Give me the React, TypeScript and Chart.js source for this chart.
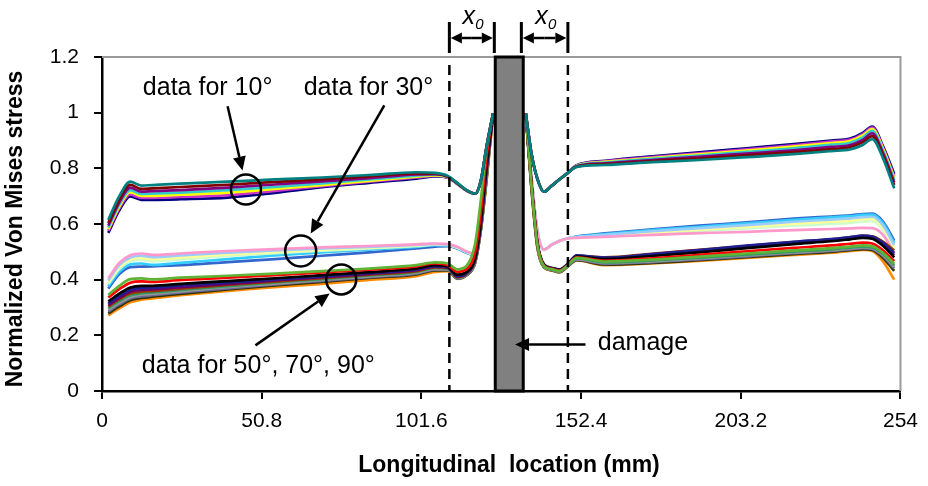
import React, { useEffect, useRef } from 'react';
import { Chart, registerables } from 'chart.js';

Chart.register(...registerables);

// Longitudinal positions (mm); 130 is the gap under the damage
const X_MM = [2, 5.5, 9, 12.5, 16, 25, 40, 55, 70, 85, 100, 106, 110, 113, 116, 118.7, 120.5, 122.3, 124.4,
  130,
  134.8, 136.5, 138.5, 140.6, 143, 145.5, 148, 151, 160, 175, 190, 205, 220, 232, 238, 242, 245, 248.5, 252];

const X_TICKS = [0, 50.8, 101.6, 152.4, 203.2, 254];
const Y_TICKS = [0, 0.2, 0.4, 0.6, 0.8, 1, 1.2];

// ---- data for 10° ----
const D10_TEAL = [0.615, 0.700, 0.752, 0.738, 0.740, 0.745, 0.752, 0.760, 0.767, 0.776, 0.786, 0.784, 0.773, 0.748, 0.722, 0.709, 0.755, 0.875, 0.997,
  null,
  0.997, 0.860, 0.762, 0.716, 0.737, 0.760, 0.782, 0.805, 0.812, 0.822, 0.830, 0.840, 0.851, 0.862, 0.868, 0.884, 0.905, 0.835, 0.728];
const D10_DARKRED = [0.603, 0.688, 0.741, 0.726, 0.728, 0.733, 0.741, 0.751, 0.760, 0.771, 0.782, 0.781, 0.771, 0.747, 0.721, 0.709, 0.755, 0.875, 0.997,
  null,
  0.997, 0.860, 0.762, 0.716, 0.737, 0.760, 0.782, 0.806, 0.815, 0.826, 0.836, 0.847, 0.858, 0.869, 0.876, 0.894, 0.916, 0.845, 0.740];
const D10_PURPLE = [0.594, 0.678, 0.731, 0.716, 0.718, 0.722, 0.731, 0.742, 0.753, 0.765, 0.778, 0.779, 0.770, 0.746, 0.721, 0.709, 0.755, 0.875, 0.997,
  null,
  0.997, 0.860, 0.762, 0.716, 0.737, 0.760, 0.782, 0.807, 0.818, 0.830, 0.841, 0.853, 0.865, 0.877, 0.884, 0.902, 0.926, 0.853, 0.750];
const D10_CYAN = [0.587, 0.670, 0.722, 0.708, 0.709, 0.713, 0.722, 0.733, 0.746, 0.760, 0.774, 0.777, 0.769, 0.745, 0.720, 0.709, 0.755, 0.875, 0.997,
  null,
  0.997, 0.860, 0.762, 0.716, 0.737, 0.760, 0.782, 0.808, 0.821, 0.834, 0.846, 0.859, 0.872, 0.885, 0.892, 0.911, 0.935, 0.862, 0.758];
const D10_YELLOW = [0.581, 0.663, 0.714, 0.701, 0.701, 0.705, 0.713, 0.726, 0.740, 0.755, 0.770, 0.775, 0.768, 0.745, 0.720, 0.709, 0.755, 0.875, 0.997,
  null,
  0.997, 0.860, 0.762, 0.716, 0.737, 0.760, 0.782, 0.809, 0.823, 0.837, 0.850, 0.864, 0.878, 0.891, 0.898, 0.918, 0.941, 0.868, 0.765];
const D10_MAGENTA = [0.575, 0.656, 0.706, 0.694, 0.694, 0.697, 0.704, 0.719, 0.736, 0.752, 0.767, 0.773, 0.767, 0.744, 0.720, 0.709, 0.755, 0.875, 0.997,
  null,
  0.997, 0.860, 0.762, 0.716, 0.737, 0.760, 0.782, 0.810, 0.825, 0.840, 0.854, 0.868, 0.883, 0.896, 0.903, 0.923, 0.946, 0.873, 0.772];
const D10_NAVY = [0.568, 0.649, 0.699, 0.687, 0.687, 0.689, 0.695, 0.712, 0.732, 0.748, 0.763, 0.771, 0.766, 0.744, 0.719, 0.709, 0.755, 0.875, 0.997,
  null,
  0.997, 0.860, 0.762, 0.716, 0.737, 0.760, 0.782, 0.811, 0.827, 0.843, 0.857, 0.872, 0.887, 0.900, 0.907, 0.927, 0.950, 0.878, 0.780];

// ---- data for 30° ----
const D30_PINK = [0.405, 0.460, 0.488, 0.494, 0.489, 0.494, 0.503, 0.510, 0.516, 0.521, 0.527, 0.530, 0.528, 0.518, 0.501, 0.492, 0.600, 0.820, 0.997,
  null,
  0.997, 0.780, 0.575, 0.508, 0.525, 0.539, 0.548, 0.550, 0.554, 0.561, 0.567, 0.572, 0.578, 0.582, 0.584, 0.586, 0.585, 0.560, 0.496];
const D30_PALEBLUE = [0.397, 0.452, 0.480, 0.486, 0.481, 0.487, 0.497, 0.505, 0.512, 0.518, 0.525, 0.528, 0.527, 0.517, 0.500, 0.491, 0.598, 0.818, 0.997,
  null,
  0.997, 0.780, 0.575, 0.508, 0.525, 0.539, 0.548, 0.553, 0.561, 0.574, 0.585, 0.596, 0.608, 0.616, 0.620, 0.625, 0.626, 0.594, 0.524];
const D30_LYELLOW = [0.391, 0.445, 0.473, 0.478, 0.473, 0.480, 0.491, 0.500, 0.508, 0.515, 0.523, 0.527, 0.526, 0.516, 0.500, 0.490, 0.596, 0.816, 0.997,
  null,
  0.997, 0.780, 0.575, 0.508, 0.525, 0.539, 0.548, 0.552, 0.559, 0.570, 0.580, 0.590, 0.601, 0.608, 0.612, 0.617, 0.618, 0.586, 0.516];
const D30_LGREEN = [0.385, 0.438, 0.466, 0.471, 0.466, 0.473, 0.485, 0.495, 0.504, 0.512, 0.521, 0.526, 0.525, 0.515, 0.499, 0.490, 0.594, 0.814, 0.997,
  null,
  0.997, 0.780, 0.575, 0.508, 0.525, 0.539, 0.548, 0.551, 0.557, 0.566, 0.575, 0.584, 0.594, 0.600, 0.604, 0.609, 0.610, 0.578, 0.508];
const D30_SKYBLUE = [0.376, 0.428, 0.455, 0.458, 0.453, 0.460, 0.474, 0.487, 0.498, 0.508, 0.518, 0.524, 0.523, 0.514, 0.498, 0.489, 0.592, 0.812, 0.997,
  null,
  0.997, 0.780, 0.575, 0.508, 0.525, 0.539, 0.548, 0.554, 0.564, 0.578, 0.590, 0.602, 0.615, 0.624, 0.628, 0.633, 0.634, 0.602, 0.532];
const D30_BLUE = [0.368, 0.420, 0.445, 0.447, 0.448, 0.452, 0.463, 0.474, 0.486, 0.498, 0.512, 0.519, 0.520, 0.512, 0.497, 0.488, 0.590, 0.810, 0.997,
  null,
  0.997, 0.780, 0.575, 0.508, 0.525, 0.539, 0.548, 0.555, 0.566, 0.581, 0.594, 0.606, 0.619, 0.627, 0.631, 0.636, 0.637, 0.608, 0.540];

// ---- data for 50°, 70°, 90° ----
const D50_GREEN = [0.345, 0.378, 0.402, 0.405, 0.401, 0.407, 0.414, 0.422, 0.431, 0.440, 0.452, 0.462, 0.458, 0.437, 0.450, 0.530, 0.685, 0.870, 0.997,
  null,
  0.997, 0.752, 0.525, 0.449, 0.438, 0.431, 0.450, 0.478, 0.465, 0.472, 0.483, 0.494, 0.505, 0.513, 0.519, 0.523, 0.520, 0.496, 0.457];
const D50_RED = [0.336, 0.366, 0.389, 0.394, 0.392, 0.399, 0.407, 0.416, 0.426, 0.436, 0.448, 0.458, 0.452, 0.428, 0.438, 0.500, 0.640, 0.840, 0.997,
  null,
  0.997, 0.754, 0.527, 0.450, 0.439, 0.433, 0.451, 0.480, 0.468, 0.477, 0.489, 0.502, 0.514, 0.523, 0.529, 0.533, 0.530, 0.505, 0.466];
const D50_BLACK = [0.322, 0.350, 0.372, 0.378, 0.378, 0.385, 0.395, 0.405, 0.416, 0.427, 0.440, 0.452, 0.447, 0.418, 0.428, 0.480, 0.610, 0.810, 0.997,
  null,
  0.997, 0.756, 0.529, 0.452, 0.440, 0.434, 0.452, 0.483, 0.474, 0.485, 0.498, 0.513, 0.528, 0.538, 0.545, 0.550, 0.547, 0.521, 0.480];
const D50_NAVY = [0.315, 0.342, 0.364, 0.370, 0.371, 0.379, 0.390, 0.401, 0.412, 0.424, 0.437, 0.449, 0.445, 0.414, 0.425, 0.476, 0.602, 0.800, 0.997,
  null,
  0.997, 0.760, 0.533, 0.454, 0.442, 0.436, 0.454, 0.487, 0.479, 0.492, 0.506, 0.522, 0.536, 0.546, 0.553, 0.558, 0.555, 0.532, 0.496];
const D50_PURPLE = [0.309, 0.335, 0.357, 0.363, 0.365, 0.373, 0.385, 0.397, 0.409, 0.421, 0.434, 0.447, 0.443, 0.411, 0.423, 0.473, 0.596, 0.792, 0.997,
  null,
  0.997, 0.758, 0.531, 0.453, 0.441, 0.435, 0.453, 0.484, 0.476, 0.488, 0.502, 0.517, 0.532, 0.542, 0.548, 0.553, 0.550, 0.526, 0.488];
const D50_BROWN = [0.304, 0.329, 0.350, 0.357, 0.359, 0.368, 0.381, 0.393, 0.405, 0.418, 0.431, 0.444, 0.441, 0.409, 0.421, 0.470, 0.590, 0.785, 0.997,
  null,
  0.997, 0.760, 0.535, 0.455, 0.443, 0.437, 0.455, 0.486, 0.480, 0.493, 0.507, 0.521, 0.535, 0.545, 0.552, 0.557, 0.556, 0.536, 0.505];
const D50_SEAGREEN = [0.298, 0.323, 0.344, 0.351, 0.354, 0.363, 0.377, 0.390, 0.402, 0.415, 0.428, 0.442, 0.439, 0.407, 0.419, 0.467, 0.585, 0.778, 0.997,
  null,
  0.997, 0.750, 0.523, 0.448, 0.437, 0.430, 0.449, 0.476, 0.462, 0.469, 0.479, 0.490, 0.501, 0.509, 0.515, 0.519, 0.516, 0.492, 0.452];
const D50_GRAY = [0.292, 0.317, 0.338, 0.346, 0.349, 0.358, 0.373, 0.386, 0.399, 0.412, 0.425, 0.439, 0.437, 0.406, 0.418, 0.464, 0.581, 0.771, 0.997,
  null,
  0.997, 0.748, 0.521, 0.447, 0.436, 0.429, 0.448, 0.474, 0.460, 0.466, 0.476, 0.487, 0.498, 0.506, 0.512, 0.516, 0.513, 0.488, 0.447];
const D50_BLUEGRAY = [0.286, 0.311, 0.332, 0.340, 0.344, 0.354, 0.369, 0.383, 0.396, 0.409, 0.422, 0.436, 0.435, 0.405, 0.417, 0.462, 0.578, 0.765, 0.997,
  null,
  0.997, 0.746, 0.519, 0.446, 0.435, 0.428, 0.447, 0.472, 0.457, 0.463, 0.473, 0.484, 0.495, 0.503, 0.509, 0.513, 0.510, 0.484, 0.441];
const D50_OLIVE = [0.279, 0.304, 0.326, 0.334, 0.339, 0.349, 0.365, 0.379, 0.392, 0.406, 0.419, 0.433, 0.433, 0.404, 0.416, 0.460, 0.576, 0.758, 0.997,
  null,
  0.997, 0.744, 0.517, 0.445, 0.434, 0.427, 0.446, 0.470, 0.454, 0.460, 0.470, 0.481, 0.492, 0.500, 0.506, 0.510, 0.507, 0.478, 0.432];
const D50_ORANGE = [0.272, 0.297, 0.319, 0.328, 0.333, 0.344, 0.360, 0.373, 0.385, 0.399, 0.413, 0.428, 0.431, 0.403, 0.417, 0.462, 0.580, 0.750, 0.997,
  null,
  0.997, 0.742, 0.515, 0.443, 0.433, 0.426, 0.445, 0.469, 0.452, 0.458, 0.467, 0.478, 0.489, 0.497, 0.503, 0.507, 0.503, 0.465, 0.400];

// series list: first entries are drawn on top
const SERIES: { values: (number | null)[]; color: string }[] = [
  { values: D10_TEAL, color: '#008080' },
  { values: D10_DARKRED, color: '#800000' },
  { values: D10_PURPLE, color: '#800080' },
  { values: D10_CYAN, color: '#33CCCC' },
  { values: D10_YELLOW, color: '#FFFF00' },
  { values: D10_MAGENTA, color: '#CC33CC' },
  { values: D10_NAVY, color: '#000080' },
  { values: D50_GREEN, color: '#5FB336' },
  { values: D50_RED, color: '#FF0000' },
  { values: D50_BLACK, color: '#000000' },
  { values: D50_NAVY, color: '#1F1F8F' },
  { values: D50_PURPLE, color: '#660066' },
  { values: D50_BROWN, color: '#993300' },
  { values: D50_SEAGREEN, color: '#339966' },
  { values: D50_GRAY, color: '#969696' },
  { values: D50_BLUEGRAY, color: '#666699' },
  { values: D50_OLIVE, color: '#333300' },
  { values: D50_ORANGE, color: '#FF8C00' },
  { values: D30_PINK, color: '#FF99CC' },
  { values: D30_PALEBLUE, color: '#99CCFF' },
  { values: D30_LYELLOW, color: '#FFFF99' },
  { values: D30_LGREEN, color: '#CCFFCC' },
  { values: D30_SKYBLUE, color: '#33CCFF' },
  { values: D30_BLUE, color: '#3366CC' },
];

// annotation anchors (data units)
const DASH_X = [110.5, 148.2];
const DAMAGE_SPAN = [125.1, 134.0];
const X0_SPANS = [[110.5, 124.8], [133.4, 148.2]];

const FONT = '"Liberation Sans", Arial, Helvetica, sans-serif';

function drawArrow(ctx: CanvasRenderingContext2D, x1: number, y1: number, x2: number, y2: number, head = 14, half = 6.5) {
  const ang = Math.atan2(y2 - y1, x2 - x1);
  const bx = x2 - head * Math.cos(ang);
  const by = y2 - head * Math.sin(ang);
  ctx.beginPath();
  ctx.moveTo(x1, y1);
  ctx.lineTo(bx, by);
  ctx.stroke();
  ctx.beginPath();
  ctx.moveTo(x2, y2);
  ctx.lineTo(bx + half * Math.sin(ang), by - half * Math.cos(ang));
  ctx.lineTo(bx - half * Math.sin(ang), by + half * Math.cos(ang));
  ctx.closePath();
  ctx.fill();
}

const annotationPlugin = {
  id: 'paperAnnotations',
  afterDraw(chart: any) {
    const { ctx, chartArea: a, scales } = chart;
    const px = (v: number) => scales.x.getPixelForValue(v);
    const py = (v: number) => scales.y.getPixelForValue(v);
    ctx.save();

    // top/right frame
    ctx.strokeStyle = '#9a9a9a';
    ctx.lineWidth = 2;
    ctx.beginPath();
    ctx.moveTo(a.left, a.top);
    ctx.lineTo(a.right, a.top);
    ctx.lineTo(a.right, a.bottom);
    ctx.stroke();

    // dashed x0 limits
    ctx.strokeStyle = '#000';
    ctx.lineWidth = 2.5;
    ctx.setLineDash([10, 6]);
    for (const d of DASH_X) {
      ctx.beginPath();
      ctx.moveTo(px(d), a.top + 8);
      ctx.lineTo(px(d), a.bottom);
      ctx.stroke();
    }
    ctx.setLineDash([]);

    // damage bar
    const bl = px(DAMAGE_SPAN[0]);
    const br = px(DAMAGE_SPAN[1]);
    ctx.fillStyle = '#808080';
    ctx.fillRect(bl, a.top, br - bl, a.bottom - a.top);
    ctx.lineWidth = 3;
    ctx.strokeStyle = '#000';
    ctx.strokeRect(bl, a.top, br - bl, a.bottom - a.top);

    // x0 spans above plot
    ctx.fillStyle = '#000';
    ctx.lineWidth = 3;
    for (const [s, e] of X0_SPANS) {
      const xs = px(s);
      const xe = px(e);
      ctx.beginPath();
      ctx.moveTo(xs, a.top - 35);
      ctx.lineTo(xs, a.top - 4);
      ctx.moveTo(xe, a.top - 35);
      ctx.lineTo(xe, a.top - 4);
      ctx.stroke();
      ctx.lineWidth = 2.5;
      const ym = a.top - 19;
      const mid = (xs + xe) / 2;
      drawArrow(ctx, mid, ym, xs + 1.5, ym, 11, 5.5);
      drawArrow(ctx, mid, ym, xe - 1.5, ym, 11, 5.5);
      ctx.lineWidth = 3;
      ctx.textAlign = 'center';
      ctx.textBaseline = 'middle';
      ctx.font = `italic 25px ${FONT}`;
      ctx.fillText('x', mid - 3, a.top - 40);
      ctx.font = `italic 15px ${FONT}`;
      ctx.fillText('0', mid + 7.5, a.top - 32);
    }

    // circles
    ctx.lineWidth = 2.5;
    ctx.strokeStyle = '#000';
    const circles = [[45.8, 0.724, 15], [63.2, 0.503, 15.5], [76.1, 0.401, 15]];
    for (const [cx, cy, r] of circles) {
      ctx.beginPath();
      ctx.arc(px(cx), py(cy), r, 0, Math.PI * 2);
      ctx.stroke();
    }

    // arrows
    const arrows = [
      [39.95, 1.023, 44.7, 0.792],
      [89.8, 1.0265, 66.4, 0.5655],
      [48.8, 0.164, 72.4, 0.350],
      [153.8, 0.1667, 131.4, 0.1667],
    ];
    ctx.lineWidth = 2.5;
    for (const [x1, y1, x2, y2] of arrows) {
      drawArrow(ctx, px(x1), py(y1), px(x2), py(y2));
    }

    // callout texts
    ctx.font = `25px ${FONT}`;
    ctx.textAlign = 'left';
    ctx.textBaseline = 'middle';
    const texts: [string, number, number][] = [
      ['data for 10°', 13.0, 1.087],
      ['data for 30°', 64.15, 1.0876],
      ['data for 50°, 70°, 90°', 12.68, 0.0898],
      ['damage', 157.7, 0.171],
    ];
    for (const [t, tx, ty] of texts) ctx.fillText(t, px(tx), py(ty));

    // axis titles
    ctx.font = `bold 23px ${FONT}`;
    ctx.textAlign = 'center';
    ctx.textBaseline = 'middle';
    ctx.fillText('Longitudinal  location (mm)', 509, 466);
    ctx.save();
    ctx.translate(16, 229);
    ctx.rotate(-Math.PI / 2);
    ctx.fillText('Normalized Von Mises stress', 0, 0);
    ctx.restore();

    ctx.restore();
  },
};

export default function App() {
  const canvasRef = useRef<HTMLCanvasElement | null>(null);

  useEffect(() => {
    const canvas = canvasRef.current;
    if (!canvas) return;
    const datasets = SERIES.map((s) => ({
      data: X_MM.map((x, i) => ({ x, y: s.values[i] })),
      borderColor: s.color,
      backgroundColor: s.color,
      borderWidth: 2.7,
      pointRadius: 0,
      fill: false,
      cubicInterpolationMode: 'monotone' as const,
      spanGaps: false,
    }));
    const tickFont = { family: FONT, size: 21 };
    const chart = new Chart(canvas, {
      type: 'line',
      data: { datasets },
      options: {
        animation: false,
        responsive: true,
        maintainAspectRatio: false,
        layout: { padding: { top: 57, right: 25, left: 0, bottom: 0 } },
        plugins: { legend: { display: false }, tooltip: { enabled: false } },
        scales: {
          x: {
            type: 'linear',
            min: 0,
            max: 254,
            afterBuildTicks: (s: any) => {
              s.ticks = X_TICKS.map((v) => ({ value: v }));
            },
            afterFit: (s: any) => {
              s.height = 95;
            },
            ticks: {
              autoSkip: false,
              maxRotation: 0,
              color: '#000',
              font: tickFont,
              padding: 10,
              callback: (v: any) => String(v),
            },
            grid: { drawOnChartArea: false, drawTicks: true, tickLength: 8, color: '#000', lineWidth: 2 },
            border: { display: true, color: '#000', width: 2.5 },
          },
          y: {
            type: 'linear',
            min: 0,
            max: 1.2,
            afterBuildTicks: (s: any) => {
              s.ticks = Y_TICKS.map((v) => ({ value: v }));
            },
            afterFit: (s: any) => {
              s.width = 102;
            },
            ticks: {
              autoSkip: false,
              color: '#000',
              font: tickFont,
              padding: 15,
              callback: (v: any) => String(v),
            },
            grid: { drawOnChartArea: false, drawTicks: true, tickLength: 8, color: '#000', lineWidth: 2 },
            border: { display: true, color: '#000', width: 2.5 },
          },
        },
      },
      plugins: [annotationPlugin],
    });
    return () => chart.destroy();
  }, []);

  return (
    <div style={{ position: 'fixed', left: 0, top: 0, width: 928, height: 486, background: '#fff' }}>
      <canvas ref={canvasRef} />
    </div>
  );
}
